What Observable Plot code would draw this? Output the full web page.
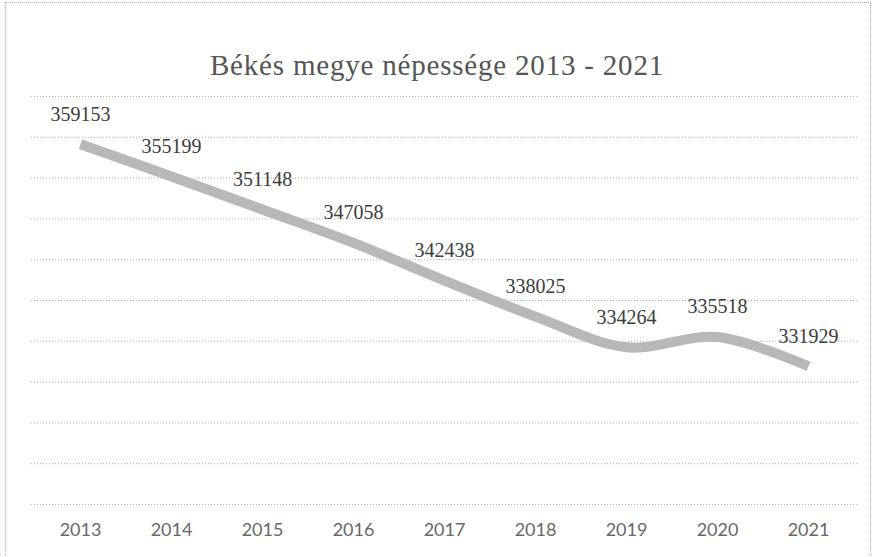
<!DOCTYPE html>
<html>
<head>
<meta charset="utf-8">
<script src="https://cdn.jsdelivr.net/npm/d3@7"></script>
<script src="https://cdn.jsdelivr.net/npm/@observablehq/plot@0.6"></script>
<style>
  html, body { margin: 0; padding: 0; background: #fff; }
  #wrap { position: relative; width: 874px; height: 557px; overflow: hidden; }
  #frame { position: absolute; left: 5px; top: 2px; width: 866px; height: 560px; border: 1px dotted #b0b0b0; box-sizing: border-box; pointer-events: none; }
  #title { position: absolute; left: 0; top: 47px; width: 874px; text-align: center; font-family: "Liberation Serif", "DejaVu Serif", serif; font-size: 29px; color: #555; letter-spacing: 0.8px; line-height: 36px; }
  #chart { position: absolute; left: 0; top: 80px; }
</style>
</head>
<body>
<div id="wrap">
  <div id="frame"></div>
  <div id="title">Békés megye népessége 2013 - 2021</div>
  <div id="chart"></div>
</div>
<script>
const years = ["2013", "2014", "2015", "2016", "2017", "2018", "2019", "2020", "2021"];
const population = [359153, 355199, 351148, 347058, 342438, 338025, 334264, 335518, 331929];
const gridValues = [315000, 320000, 325000, 330000, 335000, 340000, 345000, 350000, 355000, 360000, 365000];

const data = years.map((y, i) => ({year: y, value: population[i]}));

const plot = Plot.plot({
  width: 874,
  height: 477,
  marginLeft: 31,
  marginRight: 17,
  marginTop: 16,
  marginBottom: 53,
  style: {background: "transparent", overflow: "visible"},
  x: {type: "point", domain: years, padding: 0.5, label: null},
  y: {domain: [315000, 365000], axis: null},
  marks: [
    Plot.ruleY(gridValues, {stroke: "#9a9a9a", strokeWidth: 1, strokeDasharray: "1,2", strokeOpacity: 0.8}),
    Plot.axisX({label: null, tickSize: 0, tickPadding: 19, fontSize: 18, fontFamily: "Lato, 'Open Sans', sans-serif", fontWeight: 400, fill: "#686868"}),
    Plot.line(data, {x: "year", y: "value", curve: "catmull-rom", stroke: "#b8b8b8", strokeWidth: 10, strokeLinecap: "butt", strokeLinejoin: "round"}),
    Plot.text(data, {x: "year", y: "value", text: d => String(d.value), dy: -30, fontSize: 20, fontFamily: "'Liberation Serif', 'DejaVu Serif', serif", fill: "#3c3c3c"})
  ]
});
document.getElementById("chart").appendChild(plot);
</script>
</body>
</html>
